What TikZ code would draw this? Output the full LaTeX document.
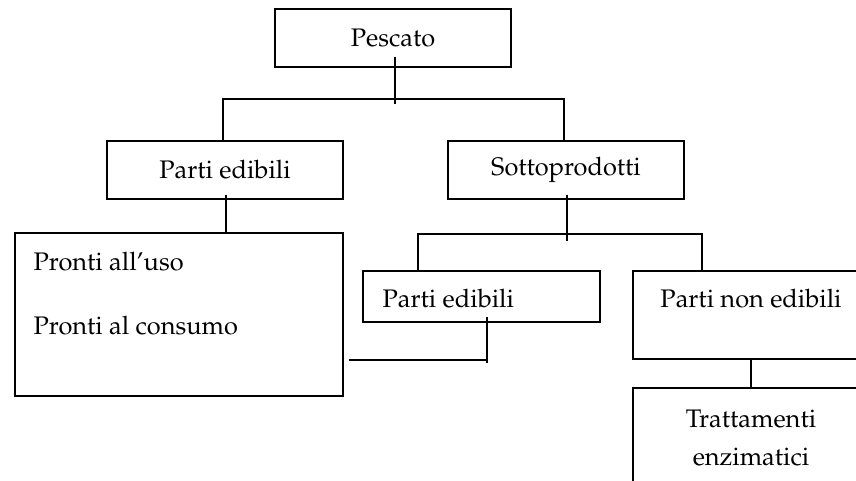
\documentclass[tikz,border=0pt]{standalone}
\usepackage[T1]{fontenc}
\usepackage{mathpazo}
\usetikzlibrary{positioning}
\begin{document}
\begin{tikzpicture}[x=0.5pt, y=-0.5pt, line width=0.6pt,
                    main/.style = {draw, rectangle, inner sep=0pt, minimum width=118pt, minimum height=29pt, font=\fontsize{12.7}{15}\selectfont},
                    txt/.style = {inner sep=0pt, font=\fontsize{12.7}{15}\selectfont}]
                        \useasboundingbox (0,0) rectangle (856,481);
                        \clip (0,0) rectangle (856,481);
                        \node[main] (1) at (393,38) {Pescato};
                        \node[main] (2) at (225,170) {Parti edibili};
                        \node[main] (3) at (566,170) {Sottoprodotti};
                        \node[main, minimum width=164pt, minimum height=81.5pt] (4) at (179,314.5) {};
                        \node[main, minimum width=118.5pt, minimum height=25.5pt] (5) at (481.5,296.5) {};
                        \node[main, minimum height=44pt] (6) at (751,315) {};
                        \node[main, minimum height=70pt] (7) at (751,458) {};

                        \node[txt, anchor=base west] (4a) at (33,270) {Pronti all'uso};
                        \node[txt, anchor=base west] (4b) at (33,334) {Pronti al consumo};
                        \node[txt, anchor=base west] (5a) at (382,307) {Parti edibili};
                        \node[txt, anchor=base] (6a) at (751,307) {Parti non edibili};
                        \node[txt, anchor=base] (7a) at (751,427) {Trattamenti};
                        \node[txt, anchor=base] (7b) at (751,465) {enzimatici};

                        \coordinate (f1) at (395,99);
                        \coordinate (f2l) at (418,234);
                        \coordinate (f2r) at (702,234);
                        \coordinate (f3) at (487,360);

                        \draw (1.south -| f1) ++(0,-11) -- ++(0,47);
                        \draw (2.north -| 223,0) |- (f1) -| (3.north -| 564,0);
                        \draw (2.south) ++(1,-5) -- (4.north -| 226,0);
                        \draw (3.south) ++(1,-5) -- ++(0,46);
                        \draw (5.north -| f2l) -- (f2l) -- (f2r) -- (6.north -| f2r);
                        \draw (f3) ++(0,-43) -- ++(0,46);
                        \draw ([xshift=2.5pt]4.east |- f3) -- (f3);
                        \draw (6) -- (7);
                    \end{tikzpicture}
\end{document}
